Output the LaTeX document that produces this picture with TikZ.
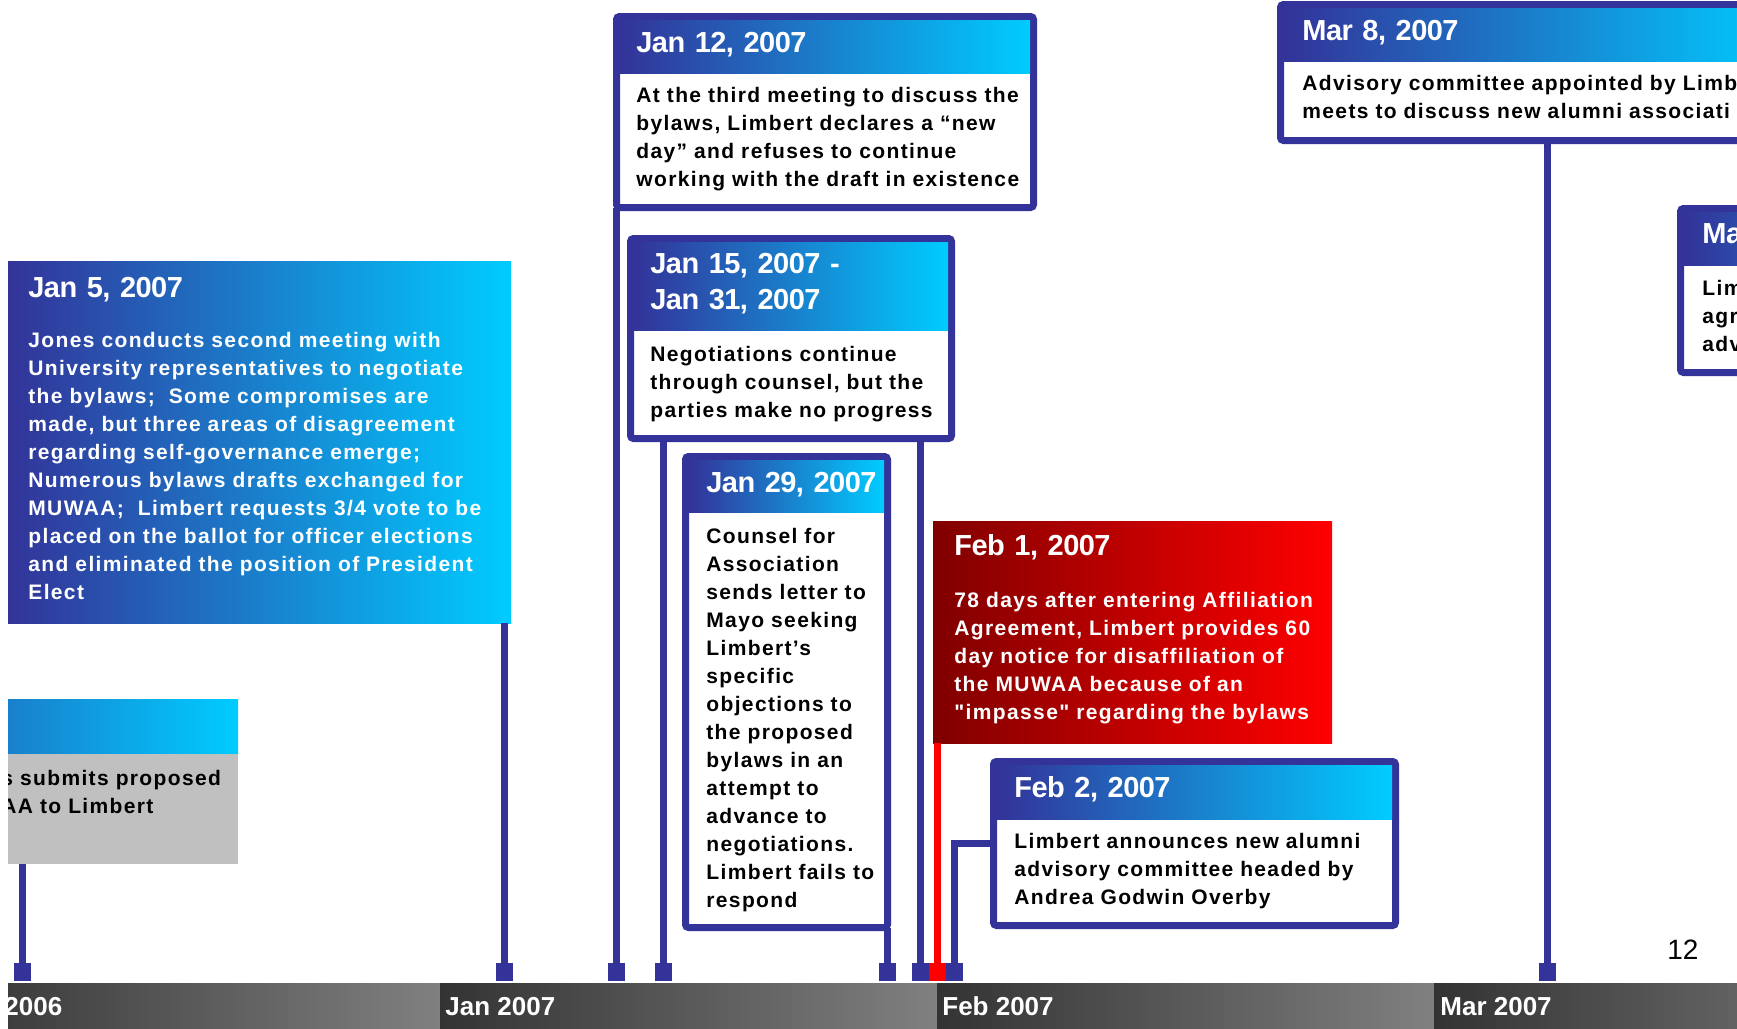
\documentclass[tikz,border=0pt]{standalone}
\usepackage{fontspec}
\setmainfont{Liberation Sans}
\newfontfamily\spacedsans[LetterSpace=6.5]{Liberation Sans}
\newfontfamily\tightsans[LetterSpace=-2.0]{Liberation Sans}
\usepackage{tikz}
\usetikzlibrary{positioning}
\definecolor{tlblue}{HTML}{333399}
\definecolor{tlcyan}{HTML}{00CCFF}
\definecolor{tldarkred}{HTML}{800000}
\definecolor{tlred}{HTML}{FF0000}
\definecolor{tlgray}{HTML}{C0C0C0}
\definecolor{bardark}{HTML}{333333}
\definecolor{barlight}{HTML}{808080}

\begin{document}
\begin{tikzpicture}[x=0.5pt, y=-0.5pt, bluecard/.style={rectangle, anchor=north west, inner sep=0pt, outer sep=0pt, left color=tlblue, right color=tlcyan}, redcard/.style={bluecard, left color=tldarkred, right color=tlred}, graycard/.style={rectangle, inner sep=0pt, outer sep=0pt, fill=tlgray}, framecard/.style={rectangle, anchor=north west, inner sep=0pt, outer sep=0pt, draw=tlblue, line width=3.5pt, fill=white, rounded corners=1.5pt}, headband/.style={left color=tlblue, right color=tlcyan}, monthbar/.style={rectangle, anchor=north west, inner sep=0pt, outer sep=0pt, minimum width=248.5pt, minimum height=23pt, left color=bardark, right color=barlight}, monthtext/.style={anchor=base west, inner sep=0pt, text=white, font=\bfseries\fontsize{13}{15}\selectfont}, datetext/.style={anchor=base west, inner sep=0pt, text width=220pt, align=left, text=white, font=\tightsans\bfseries\fontsize{14.5}{18}\selectfont}, bodytext/.style={anchor=base west, inner sep=0pt, text width=260pt, align=left, font=\spacedsans\bfseries\fontsize{10.5}{14}\selectfont}, whitetext/.style={bodytext, text=white}, datemark/.style={rectangle, inner sep=0pt, outer sep=0pt, fill=tlblue, minimum width=8.5pt, minimum height=9pt}, reddatemark/.style={datemark, fill=tlred}, stem/.style={draw=tlblue, line width=3.5pt}, redstem/.style={stem, draw=tlred}]
\useasboundingbox (0,0) rectangle (1737,1029);
\clip (8,0) rectangle (1737,1029);

% month bar
\node[monthbar] (barDec) at (-57,983) {};
\node[monthbar] (barJan) [right=0pt of barDec] {};
\node[monthbar] (barFeb) [right=0pt of barJan] {};
\node[monthbar] (barMar) [right=0pt of barFeb] {};
\node[monthtext] (labDec) at (4,1015) {2006};
\node[monthtext] (labJan) at (445,1015) {Jan 2007};
\node[monthtext] (labFeb) at (942,1015) {Feb 2007};
\node[monthtext] (labMar) at (1440,1015) {Mar 2007};

% filled cards
\node[bluecard, minimum width=251.5pt, minimum height=181pt] (jan5) at (8,261) {};
\node[redcard, minimum width=199.5pt, minimum height=111pt] (feb1) at (933,521) {};
\node[bluecard, minimum width=230pt, minimum height=27.5pt] (dechead) at (-222,699) {};
\node[graycard, minimum width=230pt, minimum height=55pt] (decbody) [below=0pt of dechead] {};

% framed cards
\node[framecard, minimum width=208.5pt, minimum height=95.5pt] (jan12) at (616.5,16.5) {};
\shade[headband] ([shift={(3.5,3.5)}]jan12.north west) rectangle ([shift={(-3.5,56.5)}]jan12.north east);
\node[framecard, minimum width=160.5pt, minimum height=100pt] (jan15) at (630.5,238.5) {};
\shade[headband] ([shift={(3.5,3.5)}]jan15.north west) rectangle ([shift={(-3.5,91.5)}]jan15.north east);
\node[framecard, minimum width=101pt, minimum height=235.5pt] (jan29) at (685.5,456.5) {};
\shade[headband] ([shift={(3.5,3.5)}]jan29.north west) rectangle ([shift={(-3.5,55.5)}]jan29.north east);
\node[framecard, minimum width=201pt, minimum height=82pt] (feb2) at (993.5,761.5) {};
\shade[headband] ([shift={(3.5,3.5)}]feb2.north west) rectangle ([shift={(-3.5,57.5)}]feb2.north east);
\node[framecard, minimum width=253pt, minimum height=68pt] (mar8) at (1280.5,4.5) {};
\shade[headband] ([shift={(3.5,3.5)}]mar8.north west) rectangle ([shift={(-3.5,56.5)}]mar8.north east);
\node[framecard, minimum width=188pt, minimum height=82pt] (mar) at (1680.5,208.5) {};
\shade[headband] ([shift={(3.5,3.5)}]mar.north west) rectangle ([shift={(-3.5,56.5)}]mar.north east);

% texts
\node[datetext] (jan5date) at (28,297) {Jan 5, 2007};
\node[whitetext] (jan5text) at (28,347) {Jones conducts second meeting with\\University representatives to negotiate\\the bylaws;~ Some compromises are\\made, but three areas of disagreement\\regarding self-governance emerge;\\Numerous bylaws drafts exchanged for\\MUWAA;~ Limbert requests 3/4 vote to be\\placed on the ballot for officer elections\\and eliminated the position of President\\Elect};
\node[bodytext] (dectext) at (1,785) {s submits proposed\\AA to Limbert};
\node[datetext] (jan12date) at (636,52) {Jan 12, 2007};
\node[bodytext] (jan12text) at (636,102) {At the third meeting to discuss the\\bylaws, Limbert declares a “new\\day” and refuses to continue\\working with the draft in existence};
\node[datetext] (jan15date) at (650,273) {Jan 15, 2007 -\\Jan 31, 2007};
\node[bodytext] (jan15text) at (650,361) {Negotiations continue\\through counsel, but the\\parties make no progress};
\node[datetext] (jan29date) at (706,492) {Jan 29, 2007};
\node[bodytext] (jan29text) at (706,543) {Counsel for\\Association\\sends letter to\\Mayo seeking\\Limbert’s\\specific\\objections to\\the proposed\\bylaws in an\\attempt to\\advance to\\negotiations.\\Limbert fails to\\respond};
\node[datetext] (feb1date) at (954,555) {Feb 1, 2007};
\node[whitetext] (feb1text) at (954,607) {78 days after entering Affiliation\\Agreement, Limbert provides 60\\day notice for disaffiliation of\\the MUWAA because of an\\"impasse" regarding the bylaws};
\node[datetext] (feb2date) at (1014,797) {Feb 2, 2007};
\node[bodytext] (feb2text) at (1014,848) {Limbert announces new alumni\\advisory committee headed by\\Andrea Godwin Overby};
\node[datetext] (mar8date) at (1302,40) {Mar 8, 2007};
\node[bodytext] (mar8text) at (1302,90) {Advisory committee appointed by Limb\\meets to discuss new alumni associati};
\node[datetext] (mardate) at (1702,243) {Ma};
\node[bodytext] (martext) at (1702,295) {Lim\\agr\\adv};
\node[anchor=base west, inner sep=0pt, font=\fontsize{14}{16}\selectfont] (pagenum) at (1667,959) {12};

% date marks
\node[datemark] (mDec) at (22,972) {};
\node[datemark] (mJan5) at (504,972) {};
\node[datemark] (mJan12) at (616.5,972) {};
\node[datemark] (mJan15) at (663,972) {};
\node[datemark] (mJan29) at (887.5,972) {};
\node[datemark] (mJan31) at (920,972) {};
\node[reddatemark] (mFeb1) at (937.5,972) {};
\node[datemark] (mFeb2) at (954,972) {};
\node[datemark] (mMar8) at (1547,972) {};

% stems
\draw[stem] (mDec |- decbody.south) -- (mDec.north);
\draw[stem] (mJan5 |- jan5.south) -- (mJan5.north);
\draw[stem] (mJan12 |- jan12.south) -- (mJan12.north);
\draw[stem] (mJan15 |- jan15.south) -- (mJan15.north);
\draw[stem] (mJan31 |- jan15.south) -- (mJan31.north);
\draw[stem] (mJan29 |- jan29.south) -- (mJan29.north);
\draw[redstem] (mFeb1 |- feb1.south) -- (mFeb1.north);
\draw[stem] (feb2.west) -| (mFeb2.north);
\draw[stem] (mMar8 |- mar8.south) -- (mMar8.north);
\end{tikzpicture}
\end{document}
